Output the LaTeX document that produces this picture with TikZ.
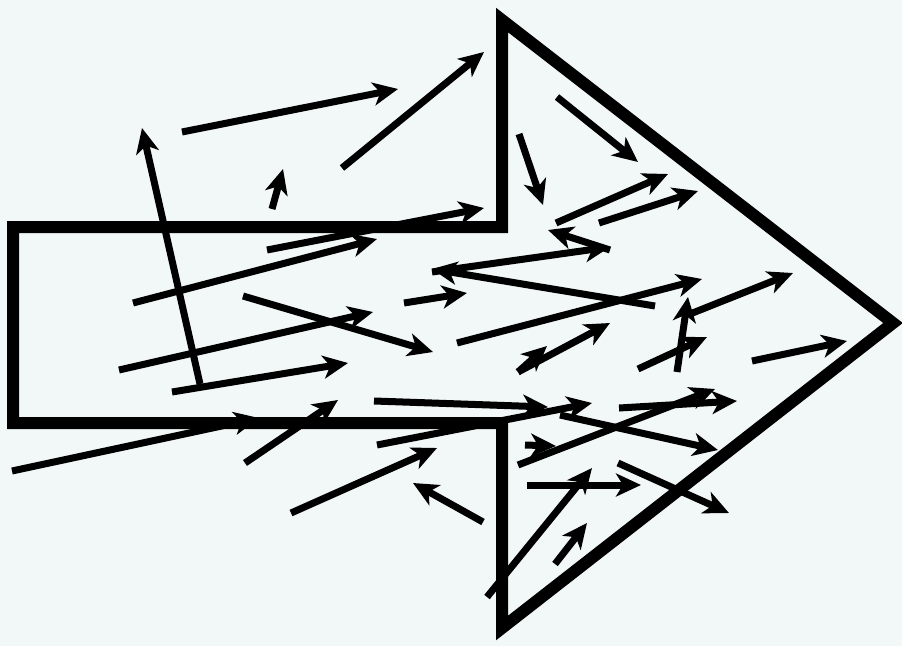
\documentclass[tikz,border=0pt]{standalone}
\usetikzlibrary{arrows.meta}
\definecolor{bgcol}{RGB}{242,248,248}
\tikzset{
  vec/.style={line width=7pt, -{Stealth[length=25pt,width=23pt,inset=7pt]}},
  outline/.style={line width=12pt, miter limit=10, line join=miter}
}
\begin{document}
\begin{tikzpicture}[x=1pt,y=-1pt]
\fill[bgcol] (0,0) rectangle (902,646);
\useasboundingbox (0,0) rectangle (902,646);
% big outline arrow
\draw[outline] (13,227) -- (502,227) -- (502,20) -- (893,323) -- (502,628) -- (502,423) -- (13,423) -- cycle;
% small arrows
\draw[vec] (182,132) -- (398,89);
\draw[vec] (342,168) -- (484,52);
\draw[vec] (200,384) -- (142,128);
\draw[vec] (272,209) -- (283,169);
\draw[vec] (267,250) -- (484,208);
\draw[vec] (133,303) -- (377,239);
\draw[vec] (243,296) -- (433,352);
\draw[vec] (119,370) -- (373,312);
\draw[vec] (172,392) -- (348,363);
\draw[vec] (12,471) -- (259,418);
\draw[vec] (245,463) -- (338,400);
\draw[vec] (374,401) -- (548,407);
\draw[vec] (377,445) -- (592,403);
\draw[vec] (291,513) -- (437,448);
\draw[vec] (483,522) -- (413,483);
\draw[vec] (404,303) -- (467,293);
\draw[vec] (557,97) -- (638,162);
\draw[vec] (519,134) -- (543,205);
\draw[vec] (556,223) -- (668,174);
\draw[vec] (599,223) -- (698,191);
\draw[vec] (610,250) -- (548,230);
\draw[vec] (432,272) -- (610,247);
\draw[vec] (655,306) -- (432,269);
\draw[vec] (457,343) -- (702,279);
\draw[vec] (690,314) -- (793,273);
\draw[vec] (677,372) -- (688,297);
\draw[vec] (518,372) -- (610,323);
\draw[vec] (518,372) -- (547,346);
\draw[vec] (638,369) -- (707,337);
\draw[vec] (752,361) -- (847,341);
\draw[vec] (619,408) -- (737,401);
\draw[vec] (518,465) -- (715,389);
\draw[vec] (560,415) -- (718,450);
\draw[vec] (525,445) -- (556,446);
\draw[vec] (527,485) -- (641,485);
\draw[vec] (487,597) -- (592,468);
\draw[vec] (555,564) -- (587,523);
\draw[vec] (618,463) -- (729,513);
\end{tikzpicture}
\end{document}
